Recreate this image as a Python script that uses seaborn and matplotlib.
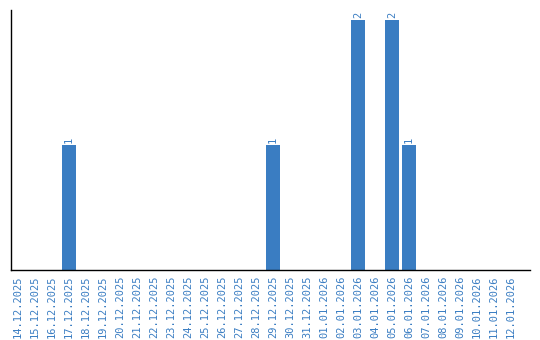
import matplotlib
matplotlib.use("Agg")
import matplotlib.pyplot as plt
import seaborn as sns
import pandas as pd

dates = ["14.12.2025", "15.12.2025", "16.12.2025", "17.12.2025", "18.12.2025",
         "19.12.2025", "20.12.2025", "21.12.2025", "22.12.2025", "23.12.2025",
         "24.12.2025", "25.12.2025", "26.12.2025", "27.12.2025", "28.12.2025",
         "29.12.2025", "30.12.2025", "31.12.2025", "01.01.2026", "02.01.2026",
         "03.01.2026", "04.01.2026", "05.01.2026", "06.01.2026", "07.01.2026",
         "08.01.2026", "09.01.2026", "10.01.2026", "11.01.2026", "12.01.2026"]
counts = [0, 0, 0, 1, 0, 0, 0, 0, 0, 0, 0, 0, 0, 0, 0,
          1, 0, 0, 0, 0, 2, 0, 2, 1, 0, 0, 0, 0, 0, 0]

color = "#3a7dc2"
sns.set_style("white")
plt.rcParams['font.family'] = ['DejaVu Sans Mono']

df = pd.DataFrame({"date": dates, "count": counts})
fig = plt.figure(figsize=(5.4, 3.4), dpi=100)
ax = fig.add_axes([11/540, 70/340, 519/540, 260/340])
sns.barplot(data=df, x="date", y="count", color=color, saturation=1, width=0.82,
            linewidth=0, ax=ax)
ax.set_xlim(-0.41, len(dates) + 0.12)
ax.set_ylim(0, 2.08)
for i, v in enumerate(counts):
    if v > 0:
        ax.text(i, v + 0.02, str(v), rotation=90, ha="center", va="bottom",
                fontsize=7.5, color=color)
ax.set_xlabel("")
ax.set_ylabel("")
ax.set_yticks([])
ax.tick_params(axis="x", length=0, pad=4, labelsize=7.5, labelcolor=color)
for lbl in ax.get_xticklabels():
    lbl.set_rotation(90)
for s in ["top", "right"]:
    ax.spines[s].set_visible(False)
for s in ["left", "bottom"]:
    ax.spines[s].set_color("black")
    ax.spines[s].set_linewidth(1)
fig.savefig("out.png", dpi=100)
